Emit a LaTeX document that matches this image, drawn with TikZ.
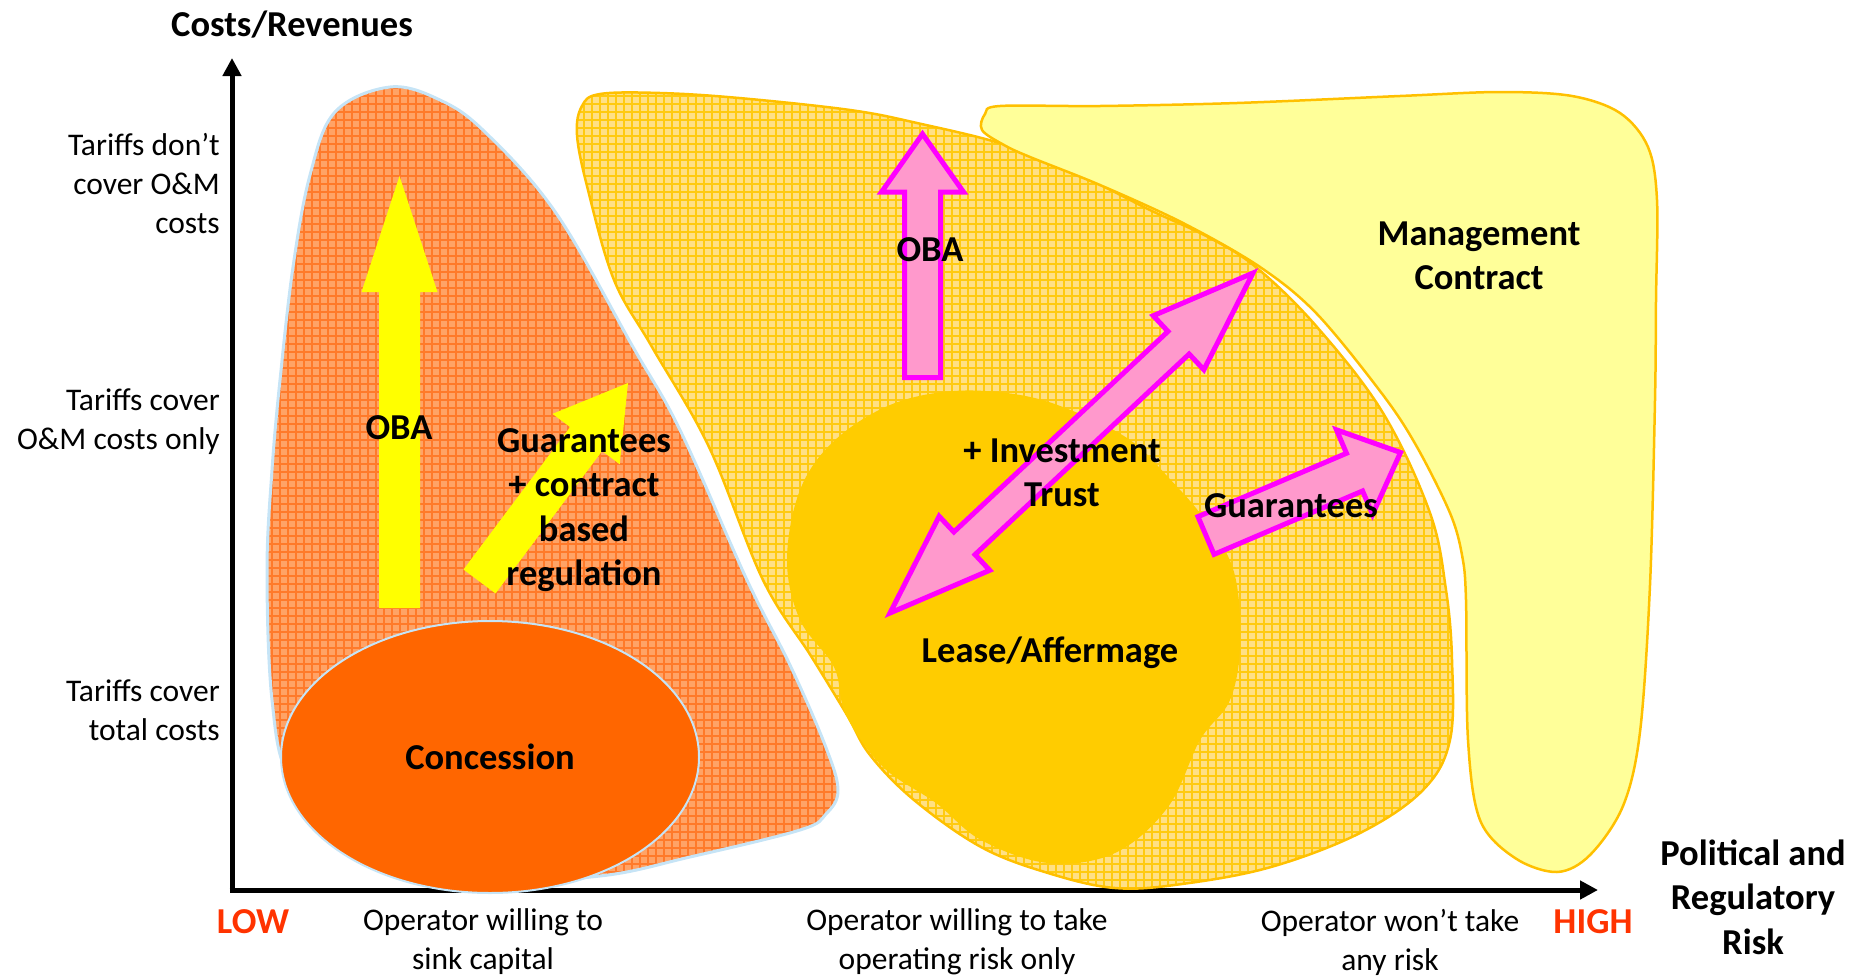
\documentclass[tikz,border=0pt]{standalone}
\usepackage{fontspec}
\setmainfont{Carlito}
\usetikzlibrary{calc,arrows.meta,shapes.geometric}

\definecolor{orbase}{HTML}{FFA366}
\definecolor{orgrid}{HTML}{FF7A2A}
\definecolor{orline}{HTML}{C6E4F6}
\definecolor{concfill}{HTML}{FF6600}
\definecolor{ylbase}{HTML}{FFE085}
\definecolor{ylgrid}{HTML}{FFCA10}
\definecolor{goldline}{HTML}{FFC000}
\definecolor{goldfill}{HTML}{FFCC00}
\definecolor{mgmtfill}{HTML}{FFFF99}
\definecolor{pinkfill}{HTML}{FF99CC}
\definecolor{pinkline}{HTML}{FF00FF}
\definecolor{lowhigh}{HTML}{FF3300}
\definecolor{yarrowc}{HTML}{FFFF00}

% single block arrow: #1 style, #2 tail, #3 tip, #4 shaft half width, #5 head half width, #6 head length
\newcommand{\arrowsingle}[6]{%
  \coordinate (hb) at ($(#3)!#6!(#2)$);
  \path[#1] ($(#2)!#4!-90:(#3)$) -- ($(hb)!#4!-90:(#3)$) -- ($(hb)!#5!-90:(#3)$) -- (#3)
    -- ($(hb)!#5!90:(#3)$) -- ($(hb)!#4!90:(#3)$) -- ($(#2)!#4!90:(#3)$) -- cycle;
}
% double block arrow: #1 style, #2 tip A, #3 tip B, #4 shaft half, #5 head half, #6 head length
\newcommand{\arrowdouble}[6]{%
  \coordinate (ha) at ($(#2)!#6!(#3)$);
  \coordinate (hb) at ($(#3)!#6!(#2)$);
  \path[#1] (#2) -- ($(ha)!#5!90:(#3)$) -- ($(ha)!#4!90:(#3)$) -- ($(hb)!#4!90:(#3)$)
    -- ($(hb)!#5!90:(#3)$) -- (#3) -- ($(hb)!#5!-90:(#3)$) -- ($(hb)!#4!-90:(#3)$)
    -- ($(ha)!#4!-90:(#3)$) -- ($(ha)!#5!-90:(#3)$) -- cycle;
}

\tikzset{
  boldtxt/.style={font=\fontsize{36.5}{44.5}\selectfont\bfseries, align=center, inner sep=0pt},
  plaintxt/.style={font=\fontsize{31.5}{39}\selectfont, align=center, inner sep=0pt},
  axis/.style={line width=5pt, -{Triangle[length=18pt,width=18pt]}},
  yarrow/.style={fill=yarrowc},
  parrow/.style={fill=pinkfill, draw=pinkline, line width=5pt, line join=miter},
}

\def\orangeblob{plot[smooth cycle, tension=0.6] coordinates {(390,87) (440,100) (485,132) (556,213) (633,347) (680,430) (747,580) (790,665) (825,745) (838,790) (826,814) (800,830) (690,857) (600,876) (480,880) (350,850) (290,780) (272,700) (267,571) (272,470) (280,380) (293,267) (310,175) (335,112)}}
\def\yellowblob{plot[smooth cycle, tension=0.6] coordinates {(600,94) (660,93) (739,98) (850,110) (917,123) (1006,145) (1080,175) (1150,210) (1210,238) (1257,268) (1317,327) (1383,413) (1430,513) (1446,590) (1452,660) (1450,740) (1423,790) (1360,833) (1271,867) (1182,884) (1115,888) (1048,873) (981,847) (914,800) (870,755) (847,715) (811,656) (763,580) (709,447) (652,347) (614,280) (588,190) (577,135) (582,106)}}
\def\goldblob{plot[smooth cycle, tension=0.6] coordinates {(787,560) (800,490) (834,441) (890,405) (954,391) (1020,395) (1073,411) (1130,440) (1168,477) (1205,520) (1234,572) (1240,644) (1230,700) (1200,740) (1168,807) (1115,853) (1048,863) (981,840) (936,803) (883,767) (846,715) (834,667) (800,620)}}
\def\mgmtblob{plot[smooth cycle, tension=0.55] coordinates {(1000,106) (1100,106) (1237,103) (1400,96) (1500,92) (1572,96) (1620,113) (1648,147) (1657,200) (1656,300) (1655,400) (1650,585) (1640,732) (1623,806) (1590,855) (1557,872) (1515,858) (1480,820) (1468,740) (1466,600) (1462,555) (1450,513) (1417,447) (1383,395) (1317,314) (1260,267) (1183,223) (1100,185) (1030,157) (1004,145) (982,130) (985,114)}}

\begin{document}
\begin{tikzpicture}[x=1pt,y=-1pt]
\useasboundingbox (0,0) rectangle (1869,978);

% axes
\coordinate (yorigin) at (232,892.5);
\coordinate (xorigin) at (229.5,890);
\coordinate (ytip) at (232,58);
\coordinate (xtip) at (1598,890);
\draw[axis] (yorigin) -- (ytip);
\draw[axis] (xorigin) -- (xtip);

% orange hatched region
\fill[orbase] \orangeblob;
\begin{scope}
  \clip \orangeblob;
  \draw[orgrid, line width=1.4pt, step=8pt] (240,904) grid (860,80);
\end{scope}
\draw[orline, line width=3pt] \orangeblob;

% concession
\node[ellipse, minimum width=418pt, minimum height=272pt, inner sep=0pt, fill=concfill, draw=orline, line width=2pt] (concession) at (490,757) {};

% yellow hatched region
\fill[ylbase] \yellowblob;
\begin{scope}
  \clip \yellowblob;
  \draw[ylgrid, line width=1.4pt, step=8pt] (560,904) grid (1470,80);
\end{scope}
\draw[goldline, line width=2.5pt] \yellowblob;

% lease/affermage blob
\fill[goldfill] \goldblob;

% management contract
\draw[goldline, line width=2.5pt, fill=mgmtfill] \mgmtblob;

% yellow arrows
\coordinate (obaytail) at (399.5,608);
\coordinate (obaytip) at (399.5,176);
\arrowsingle{yarrow}{obaytail}{obaytip}{20.5pt}{38pt}{116pt}
\coordinate (gytail) at (479.5,581.5);
\coordinate (gytip) at (628,383);
\arrowsingle{yarrow}{gytail}{gytip}{20pt}{42pt}{70pt}

% pink arrows
\coordinate (obaptail) at (922.5,377.5);
\coordinate (obaptip) at (922.5,134);
\arrowsingle{parrow}{obaptail}{obaptip}{18pt}{41pt}{58pt}
\coordinate (invA) at (890,613);
\coordinate (invB) at (1253,273);
\arrowdouble{parrow}{invA}{invB}{15.5pt}{37pt}{102pt}
\coordinate (gptail) at (1206,535.5);
\coordinate (gptip) at (1400.5,452.5);
\arrowsingle{parrow}{gptail}{gptip}{20.5pt}{46pt}{50pt}

% texts
\node[boldtxt] (costsrev) at (292,25) {Costs/Revenues};
\node[plaintxt, anchor=east, align=right] (tdc) at (220,184) {Tariffs don’t\\cover O\&M\\costs};
\node[plaintxt, anchor=east, align=right] (tcom) at (220,422) {Tariffs cover\\O\&M costs only};
\node[plaintxt, anchor=east, align=right] (tct) at (220,710) {Tariffs cover\\total costs};
\node[boldtxt, text=lowhigh] (low) at (253,922) {LOW};
\node[plaintxt] (sink) at (483,942) {Operator willing to\\sink capital};
\node[plaintxt] (oponly) at (957,942) {Operator willing to take\\operating risk only};
\node[plaintxt] (norisk) at (1390,942) {Operator won’t take\\any risk};
\node[boldtxt, text=lowhigh] (high) at (1593,922) {HIGH};
\node[boldtxt] (polrisk) at (1753,897) {Political and\\Regulatory\\Risk};
\node[boldtxt] (conctext) at (concession.center) {Concession};
\node[boldtxt] (obal) at (399,428) {OBA};
\node[boldtxt] (guar1) at (584,510) {Guarantees\\+ contract\\based\\regulation};
\node[boldtxt] (obam) at (930,250) {OBA};
\node[boldtxt] (invtrust) at (1062,473) {+ Investment\\Trust};
\node[boldtxt] (guar2) at (1291,506) {Guarantees};
\node[boldtxt] (mgmt) at (1479,256) {Management\\Contract};
\node[boldtxt] (lease) at (1050,653) {Lease/Affermage};
\end{tikzpicture}
\end{document}
